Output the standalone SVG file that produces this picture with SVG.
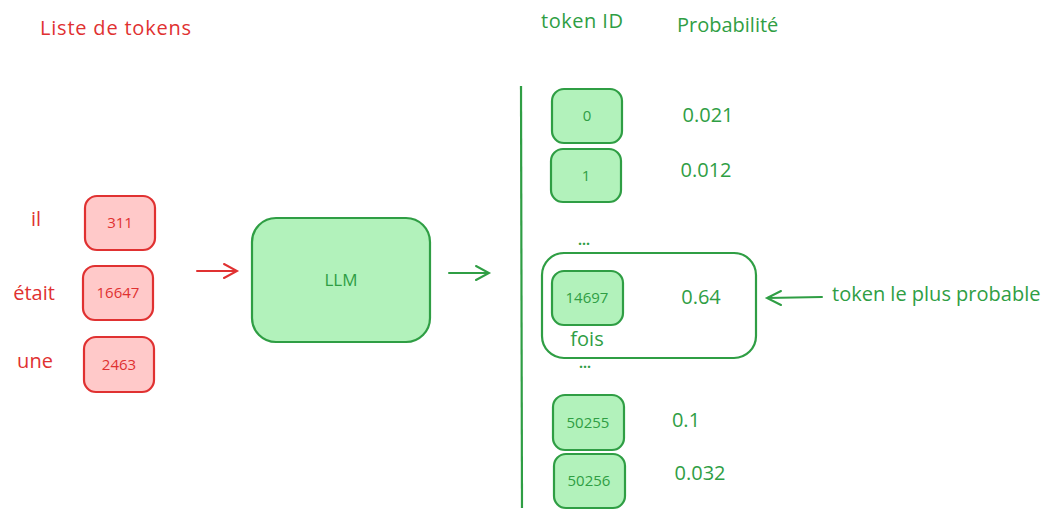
<svg xmlns="http://www.w3.org/2000/svg" width="1053" height="518" viewBox="0 0 1053 518">
<defs>
<style>
.r{fill:#ffc9c9;stroke:#e03131;stroke-width:2.2}
.g{fill:#b2f2bb;stroke:#2f9e44;stroke-width:2.2}
.o{fill:none;stroke:#2f9e44;stroke-width:2.2}
.tr{fill:#e03131;font-family:"Open Sans",sans-serif;font-size:20px}
.tg{fill:#2f9e44;font-family:"Open Sans",sans-serif;font-size:20px}
.sr{fill:#e03131;font-family:"Open Sans",sans-serif;font-size:15px;text-anchor:middle}
.sg{fill:#2f9e44;font-family:"Open Sans",sans-serif;font-size:15px;text-anchor:middle}
.d{fill:#2f9e44;font-family:"Open Sans",sans-serif;font-size:14px;text-anchor:middle;font-weight:bold}
.m{text-anchor:middle}
.ar{fill:none;stroke:#e03131;stroke-width:2;stroke-linecap:round}
.ag{fill:none;stroke:#2f9e44;stroke-width:2;stroke-linecap:round}
</style>
</defs>
<rect width="1053" height="518" fill="#fff"/>
<text class="tr" x="40" y="35" style="letter-spacing:0.8px">Liste de tokens</text>
<text class="tg" x="541" y="28" style="letter-spacing:0.5px">token ID</text>
<text class="tg" x="677" y="32">Probabilité</text>
<g id="connectors">
<path class="ar" d="M197 271 L236 271 M224 264 L237 271 L224 278"/>
<path class="ag" d="M449 273 L488 273 M476 266 L489 273 L476 280"/>
<path class="ag" d="M822 297 L767 298 M781 291 L767 298 L781 305"/>
<path class="o" d="M521 86 L522 508"/>
</g>
<g id="input-il"><text class="tr m" x="36" y="226">il</text><rect class="r" x="85" y="196" width="70" height="54" rx="12"/><text class="sr" x="120" y="228">311</text></g>
<g id="input-etait"><text class="tr m" x="34" y="300">était</text><rect class="r" x="83" y="266" width="70" height="54" rx="12"/><text class="sr" x="118" y="298">16647</text></g>
<g id="input-une"><text class="tr m" x="35" y="368">une</text><rect class="r" x="84" y="337" width="70" height="55" rx="12"/><text class="sr" x="119" y="370">2463</text></g>
<g id="llm"><rect class="g" x="252" y="218" width="178" height="124" rx="24"/><text class="sg" x="341" y="286" style="font-size:17px">LLM</text></g>
<g id="tok-0"><rect class="g" x="552" y="89" width="70" height="54" rx="12"/><text class="sg" x="587" y="121">0</text><text class="tg m" x="708" y="122">0.021</text></g>
<g id="tok-1"><rect class="g" x="551" y="149" width="70" height="53" rx="12"/><text class="sg" x="586" y="181">1</text><text class="tg m" x="706" y="177">0.012</text></g>
<text class="d" x="584" y="245">...</text>
<g id="best"><rect class="o" x="542" y="253" width="214" height="105" rx="22"/><rect class="g" x="552" y="271" width="71" height="54" rx="12"/><text class="sg" x="587" y="303">14697</text><text class="tg m" x="587" y="346">fois</text><text class="tg m" x="701" y="304">0.64</text></g>
<text class="d" x="585" y="368">...</text>
<text class="tg" x="832" y="301">token le plus probable</text>
<g id="tok-50255"><rect class="g" x="553" y="395" width="71" height="55" rx="12"/><text class="sg" x="588" y="428">50255</text><text class="tg m" x="686" y="427">0.1</text></g>
<g id="tok-50256"><rect class="g" x="554" y="454" width="71" height="54" rx="12"/><text class="sg" x="589" y="486">50256</text><text class="tg m" x="700" y="480">0.032</text></g>
</svg>
